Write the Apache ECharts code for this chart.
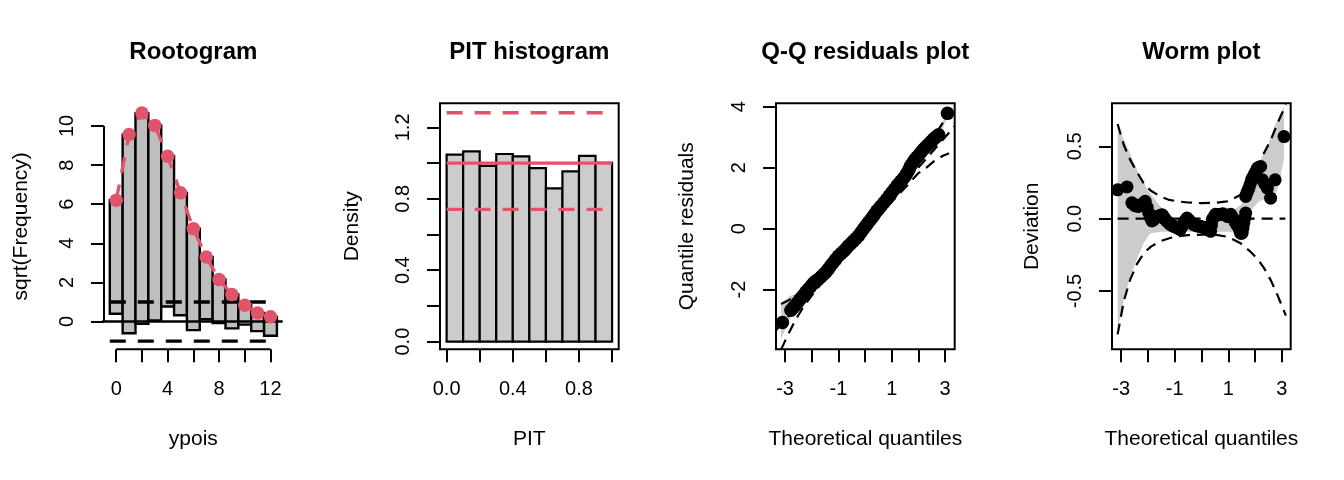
<!DOCTYPE html>
<html>
<head>
<meta charset="utf-8">
<script src="https://cdn.jsdelivr.net/npm/echarts@6/dist/echarts.min.js"></script>
<style>
  html, body { margin: 0; padding: 0; background: #fff; }
  #main { width: 1344px; height: 480px; }
</style>
</head>
<body>
<div id="main"></div>
<script>
// rootogram: counts, sqrt(expected) and sqrt(observed)
var rootCounts = [0, 1, 2, 3, 4, 5, 6, 7, 8, 9, 10, 11, 12];
var rootExpected = [6.20, 9.56, 10.66, 10.03, 8.45, 6.58, 4.75, 3.30, 2.15, 1.38, 0.83, 0.44, 0.24];
var rootObserved = [5.80, 10.16, 10.78, 9.98, 7.68, 6.26, 5.19, 3.18, 2.23, 1.73, 0.99, 0.93, 0.97];
var rootRef = [-1, 1];
var rootXTicks = [0, 2, 4, 6, 8, 10, 12];
var rootXLabels = [0, 4, 8, 12];
var rootYTicks = [0, 2, 4, 6, 8, 10];

// PIT histogram
var pitBreaks = [0, 0.1, 0.2, 0.3, 0.4, 0.5, 0.6, 0.7, 0.8, 0.9, 1.0];
var pitDensity = [1.047, 1.066, 0.984, 1.051, 1.038, 0.972, 0.859, 0.954, 1.041, 1.002];
var pitLevel = 1.0;
var pitBounds = [0.741, 1.282];
var pitXTicks = [0, 0.2, 0.4, 0.6, 0.8, 1.0];
var pitXLabels = [0, 0.4, 0.8];
var pitYTicks = [0, 0.2, 0.4, 0.6, 0.8, 1.0, 1.2];
var pitYLabels = [0, 0.4, 0.8, 1.2];

// Q-Q residuals
var qqX = [-3.10, -2.78, -2.70, -2.62, -2.54, -2.46, -2.38, -2.30, -2.22, -2.13, -2.04, -1.95, -1.85, -1.75,
  -1.65, -1.55, -1.46, -1.38, -1.29, -1.20, -1.10, -1.00, -0.90, -0.80, -0.71, -0.63, -0.54, -0.45, -0.35,
  -0.25, -0.15, -0.05, 0.04, 0.12, 0.21, 0.30, 0.37, 0.44, 0.52, 0.60, 0.70, 0.81, 0.90, 1.00, 1.10, 1.19,
  1.27, 1.35, 1.43, 1.50, 1.56, 1.62, 1.67, 1.72, 1.80, 1.87, 1.95, 2.03, 2.11, 2.19, 2.27, 2.35, 2.43,
  2.50, 2.56, 2.62, 2.69, 2.76, 3.09];
var qqY = [-3.08, -2.68, -2.60, -2.52, -2.44, -2.34, -2.26, -2.18, -2.08, -1.99, -1.90, -1.80, -1.72, -1.66,
  -1.58, -1.50, -1.42, -1.33, -1.22, -1.12, -1.01, -0.90, -0.82, -0.74, -0.65, -0.57, -0.50, -0.42, -0.33,
  -0.24, -0.12, 0.00, 0.10, 0.20, 0.30, 0.40, 0.49, 0.58, 0.66, 0.74, 0.85, 0.96, 1.07, 1.18, 1.29, 1.40,
  1.48, 1.56, 1.64, 1.72, 1.81, 1.90, 1.99, 2.08, 2.18, 2.27, 2.35, 2.43, 2.52, 2.60, 2.67, 2.74, 2.81,
  2.87, 2.93, 2.98, 3.03, 3.08, 3.78];
var qqBandX = [-3.15, -2.81, -2.50, -2.20, -1.50, -0.50, 0.50, 1.50, 2.20, 2.60, 2.80, 2.90, 3.00, 3.10];
var qqBandLo = [-3.62, -2.97, -2.54, -2.15, -1.50, -0.48, 0.60, 1.70, 2.55, 2.92, 3.05, 3.27, 3.48, 3.70];
var qqBandHi = [-2.43, -2.21, -2.10, -1.95, -1.38, -0.36, 0.72, 1.80, 2.65, 3.02, 3.25, 3.47, 3.68, 3.88];
var qqCiX = [-3.15, -2.9, -2.6, -2.3, -2.0, -1.5, -1.0, -0.5, 0, 0.5, 1.0, 1.5, 2.0, 2.3, 2.6, 2.9, 3.15];
var qqCiLo = [-3.97, -3.50, -2.98, -2.55, -2.20, -1.65, -1.12, -0.61, -0.11, 0.39, 0.88, 1.34, 1.82, 2.00, 2.22, 2.38, 2.47];
var qqCiHi = [-2.47, -2.37, -2.21, -2.01, -1.78, -1.35, -0.88, -0.39, 0.11, 0.61, 1.12, 1.62, 2.20, 2.62, 3.05, 3.45, 3.90];
var qqRef = [-3.34, 3.36];
var qqXTicks = [-3, -2, -1, 0, 1, 2, 3];
var qqXLabels = [-3, -1, 1, 3];
var qqYTicks = [-2, 0, 2, 4];

// worm plot
var wormX = [-3.13, -2.78, -2.60, -2.54, -2.48, -2.41, -2.35, -2.28, -2.22, -2.16, -2.10, -2.03, -1.97,
  -1.91, -1.85, -1.80, -1.75, -1.70, -1.66, -1.60, -1.55, -1.51, -1.47, -1.42, -1.38, -1.33, -1.29, -1.22,
  -1.16, -1.10, -1.04, -0.98, -0.92, -0.85, -0.79, -0.72, -0.66, -0.60, -0.54, -0.48, -0.42, -0.35, -0.29,
  -0.22, -0.16, -0.10, -0.04, 0.02, 0.08, 0.14, 0.21, 0.28, 0.34, 0.37, 0.40, 0.46, 0.52, 0.58, 0.65,
  0.72, 0.80, 0.88, 0.96, 1.02, 1.09, 1.15, 1.21, 1.26, 1.31, 1.36, 1.40, 1.43, 1.46, 1.49, 1.52, 1.55,
  1.58, 1.62, 1.65, 1.65, 1.68, 1.72, 1.77, 1.82, 1.87, 1.92, 1.96, 2.03, 2.09, 2.15, 2.21, 2.27, 2.36,
  2.46, 2.58, 2.75, 3.08];
var wormY = [0.200, 0.220, 0.110, 0.100, 0.090, 0.088, 0.085, 0.092, 0.100, 0.110, 0.120, 0.080, 0.040,
  0.010, -0.015, -0.008, 0.000, 0.008, 0.016, 0.018, 0.020, 0.024, 0.028, 0.014, 0.000, -0.009, -0.018,
  -0.030, -0.040, -0.047, -0.053, -0.057, -0.060, -0.068, -0.076, -0.052, -0.030, -0.012, 0.005, -0.008,
  -0.020, -0.030, -0.041, -0.046, -0.050, -0.052, -0.053, -0.057, -0.060, -0.062, -0.065, -0.076, -0.087,
  -0.045, -0.007, 0.012, 0.030, 0.029, 0.028, 0.031, 0.035, 0.026, 0.016, 0.023, 0.030, 0.012, -0.007,
  -0.024, -0.040, -0.052, -0.064, -0.082, -0.100, -0.100, -0.099, -0.065, -0.030, 0.005, 0.039, 0.154,
  0.172, 0.190, 0.211, 0.240, 0.270, 0.287, 0.303, 0.327, 0.350, 0.356, 0.361, 0.270, 0.240, 0.211,
  0.142, 0.269, 0.568];
var wormBandX = [-3.13, -2.90, -2.66, -2.41, -2.16, -1.91, -1.50, -1.00, -0.50, 0, 0.50, 1.00, 1.50, 1.80, 2.15, 2.50, 2.77, 3.08];
var wormBandLo = [-0.77, -0.56, -0.40, -0.28, -0.17, -0.10, -0.09, -0.09, -0.09, -0.09, -0.09, -0.09, -0.10, 0.05, 0.12, 0.14, 0.154, 0.41];
var wormBandHi = [0.64, 0.55, 0.45, 0.34, 0.25, 0.17, 0.08, 0.00, -0.02, -0.03, 0.00, 0.03, 0.10, 0.25, 0.384, 0.52, 0.66, 0.775];
var wormCiX = [-3.13, -2.9, -2.66, -2.4, -2.16, -1.9, -1.54, -1.2, -0.91, -0.5, 0, 0.5, 0.96, 1.2, 1.46, 1.84, 2.1, 2.33, 2.6, 2.84, 3.15];
var wormCiHi = [0.655, 0.51, 0.407, 0.32, 0.246, 0.195, 0.154, 0.13, 0.12, 0.112, 0.108, 0.11, 0.12, 0.14, 0.166, 0.269, 0.35, 0.453, 0.55, 0.66, 0.79];
var wormCiLo = [-0.80, -0.57, -0.42, -0.31, -0.24, -0.195, -0.156, -0.135, -0.122, -0.114, -0.11, -0.11, -0.125, -0.145, -0.17, -0.23, -0.28, -0.34, -0.43, -0.53, -0.67];
var wormLevel = [-3.13, 3.13];

var red = '#DF536B';
var font = '"Liberation Sans", Arial, sans-serif';
var gridLeft = [104, 440, 776, 1112];
var gridTop = 103.3, gridW = 178.7, gridH = 246;
var titles = ['Rootogram', 'PIT histogram', 'Q-Q residuals plot', 'Worm plot'];

function pairs(xs, ys) {
  return xs.map(function (x, i) { return [x, ys[i]]; });
}

function xAxisFor(i, min, max, ticks, labels, name, fmt) {
  return {
    type: 'value', gridIndex: i, min: min, max: max,
    axisLine: { show: false, onZero: false }, splitLine: { show: false },
    axisTick: { show: true, customValues: ticks, length: 13, lineStyle: { color: '#000', width: 2 } },
    axisLabel: { customValues: labels, margin: 30, color: '#000', fontSize: 20, fontFamily: font, formatter: fmt },
    name: name, nameLocation: 'middle', nameGap: 79,
    nameTextStyle: { color: '#000', fontSize: 21, fontFamily: font },
  };
}

function yAxisFor(i, min, max, ticks, labels, name, gap, fmt) {
  return {
    type: 'value', gridIndex: i, min: min, max: max,
    axisLine: { show: false, onZero: false }, splitLine: { show: false },
    axisTick: { show: true, customValues: ticks, length: 13, lineStyle: { color: '#000', width: 2 } },
    axisLabel: { customValues: labels, margin: 27, rotate: 90, color: '#000', fontSize: 20, fontFamily: font, formatter: fmt },
    name: name, nameLocation: 'middle', nameGap: gap, nameRotate: 90,
    nameTextStyle: { color: '#000', fontSize: 21, fontFamily: font },
  };
}

function lineSeries(i, data, color, width, dash, z) {
  return {
    type: 'line', xAxisIndex: i, yAxisIndex: i, data: data, symbol: 'none', clip: false, z: z || 3,
    lineStyle: { color: color, width: width, type: dash ? dash : 'solid' },
    silent: true,
  };
}

function bandSeries(i, xs, lo, hi, color) {
  return {
    type: 'custom', xAxisIndex: i, yAxisIndex: i, z: 1, silent: true,
    data: [[xs[0], lo[0]]],
    renderItem: function (params, api) {
      var pts = [];
      xs.forEach(function (x, k) { pts.push(api.coord([x, hi[k]])); });
      for (var k = xs.length - 1; k >= 0; k--) pts.push(api.coord([xs[k], lo[k]]));
      return { type: 'polygon', shape: { points: pts }, style: { fill: color } };
    },
  };
}

function fixed1(v) { return v.toFixed(1); }

var chartDom = document.getElementById('main');
var myChart = echarts.init(chartDom, null, { renderer: 'canvas' });

var option = {
  animation: false,
  backgroundColor: '#fff',
  grid: gridLeft.map(function (l, i) {
    return {
      left: l, top: gridTop, width: gridW, height: gridH,
      show: i > 0, borderColor: '#000', borderWidth: 2, backgroundColor: 'transparent',
    };
  }),
  graphic: titles.map(function (t, i) {
    return {
      type: 'text', x: gridLeft[i] + gridW / 2, y: 52,
      style: { text: t, font: 'bold 24px ' + font, fill: '#000', align: 'center', verticalAlign: 'middle' },
    };
  }),
  xAxis: [
    xAxisFor(0, -0.95, 12.95, rootXTicks, rootXLabels, 'ypois'),
    xAxisFor(1, -0.04, 1.04, pitXTicks, pitXLabels, 'PIT', fixed1),
    xAxisFor(2, -3.34, 3.36, qqXTicks, qqXLabels, 'Theoretical quantiles'),
    xAxisFor(3, -3.34, 3.33, qqXTicks, qqXLabels, 'Theoretical quantiles'),
  ],
  yAxis: [
    yAxisFor(0, -1.42, 11.16, rootYTicks, rootYTicks, 'sqrt(Frequency)', 72),
    yAxisFor(1, -0.043, 1.335, pitYTicks, pitYLabels, 'Density', 77, fixed1),
    yAxisFor(2, -3.96, 4.11, qqYTicks, qqYTicks, 'Quantile residuals', 78),
    yAxisFor(3, -0.903, 0.798, [-0.5, 0, 0.5], [-0.5, 0, 0.5], 'Deviation', 69, fixed1),
  ],
  series: [
    // rootogram: hanging bars
    {
      type: 'custom', xAxisIndex: 0, yAxisIndex: 0, z: 2, silent: true,
      data: rootCounts.map(function (c, i) { return [c, rootExpected[i], rootExpected[i] - rootObserved[i]]; }),
      encode: { x: 0, y: [1, 2] },
      renderItem: function (params, api) {
        var a = api.coord([api.value(0) - 0.5, api.value(1)]);
        var b = api.coord([api.value(0) + 0.5, api.value(2)]);
        return {
          type: 'rect', shape: { x: a[0], y: a[1], width: b[0] - a[0], height: b[1] - a[1] },
          style: { fill: '#BEBEBE', stroke: '#000', lineWidth: 2.4 },
        };
      },
    },
    // rootogram axes drawn only over the tick span
    lineSeries(0, [[-0.95, rootYTicks[0]], [-0.95, rootYTicks[rootYTicks.length - 1]]], '#000', 2, null, 5),
    lineSeries(0, [[rootXTicks[0], -1.42], [rootXTicks[rootXTicks.length - 1], -1.42]], '#000', 2, null, 5),
    lineSeries(0, [[-2.0, 0], [12.95, 0]], '#000', 2.6, null, 4),
    lineSeries(0, [[-0.5, rootRef[0]], [12.5, rootRef[0]]], '#000', 3.3, [16, 12], 4),
    lineSeries(0, [[-0.5, rootRef[1]], [12.5, rootRef[1]]], '#000', 3.3, [16, 12], 4),
    lineSeries(0, pairs(rootCounts, rootExpected), red, 3.3, [16, 12], 5),
    {
      type: 'scatter', xAxisIndex: 0, yAxisIndex: 0, z: 6, silent: true,
      data: pairs(rootCounts, rootExpected), symbolSize: 13.5, itemStyle: { color: red, opacity: 1 },
    },

    // PIT histogram
    {
      type: 'custom', xAxisIndex: 1, yAxisIndex: 1, z: 2, silent: true,
      data: pitDensity.map(function (d, i) { return [pitBreaks[i], pitBreaks[i + 1], d]; }),
      encode: { x: [0, 1], y: 2 },
      renderItem: function (params, api) {
        var a = api.coord([api.value(0), api.value(2)]);
        var b = api.coord([api.value(1), 0]);
        return {
          type: 'rect', shape: { x: a[0], y: a[1], width: b[0] - a[0], height: b[1] - a[1] },
          style: { fill: '#CCCCCC', stroke: '#000', lineWidth: 2.2 },
        };
      },
    },
    lineSeries(1, [[0, pitLevel], [1, pitLevel]], red, 3.4, null, 4),
    lineSeries(1, [[0, pitBounds[0]], [1, pitBounds[0]]], red, 3.4, [16, 12], 4),
    lineSeries(1, [[0, pitBounds[1]], [1, pitBounds[1]]], red, 3.4, [16, 12], 4),

    // Q-Q residuals
    bandSeries(2, qqBandX, qqBandLo, qqBandHi, '#CCCCCC'),
    lineSeries(2, [[qqRef[0], qqRef[0]], [qqRef[1], qqRef[1]]], '#000', 2.2, [11, 7], 3),
    lineSeries(2, pairs(qqCiX, qqCiLo), '#000', 2.2, [11, 7], 3),
    lineSeries(2, pairs(qqCiX, qqCiHi), '#000', 2.2, [11, 7], 3),
    {
      type: 'scatter', xAxisIndex: 2, yAxisIndex: 2, z: 6, silent: true,
      data: pairs(qqX, qqY), symbolSize: 13.5, itemStyle: { color: '#000', opacity: 1 },
    },

    // worm plot
    bandSeries(3, wormBandX, wormBandLo, wormBandHi, '#CCCCCC'),
    lineSeries(3, [[wormLevel[0], 0], [wormLevel[1], 0]], '#000', 2.2, [11, 7], 3),
    lineSeries(3, pairs(wormCiX, wormCiLo), '#000', 2.2, [11, 7], 3),
    lineSeries(3, pairs(wormCiX, wormCiHi), '#000', 2.2, [11, 7], 3),
    {
      type: 'scatter', xAxisIndex: 3, yAxisIndex: 3, z: 6, silent: true,
      data: pairs(wormX, wormY), symbolSize: 13, itemStyle: { color: '#000', opacity: 1 },
    },
  ],
};

option && myChart.setOption(option);

window.onresize = function () {
  myChart.resize();
};
</script>
</body>
</html>
